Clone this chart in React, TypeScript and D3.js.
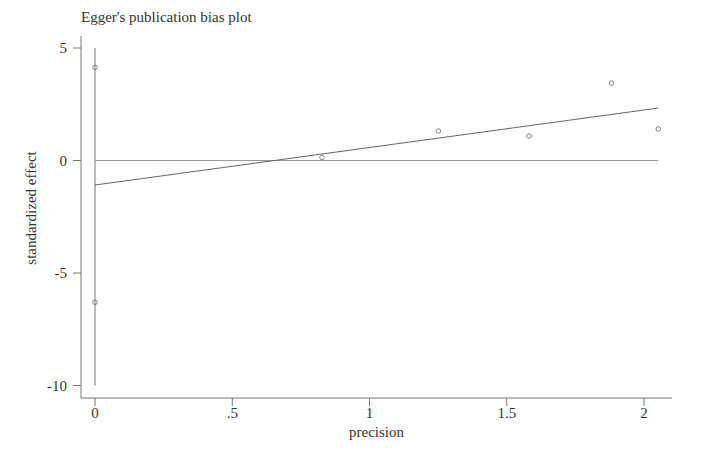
import React from "react";
import * as d3 from "d3";

const precision = [0, 0, 0.827, 1.251, 1.581, 1.882, 2.052];
const stdEffect = [4.14, -6.3, 0.13, 1.31, 1.09, 3.44, 1.4];
const regIntercept = -1.09;
const regSlope = 1.667;
const xTicks = [0, 0.5, 1, 1.5, 2];
const xTickLabels = ["0", ".5", "1", "1.5", "2"];
const yTicks = [5, 0, -5, -10];
const yTickLabels = ["5", "0", "-5", "-10"];
const title = "Egger's publication bias plot";
const xTitle = "precision";
const yTitle = "standardized effect";

export default function App() {
  const W = 705, H = 458;
  const x = d3.scaleLinear().domain([0, 2]).range([95, 644]);
  const y = d3.scaleLinear().domain([0, 5]).range([160.5, 48]);
  const axisLeftX = 81;
  const axisBottomY = 398;
  const xMin = x.invert(axisLeftX), xMax = x.invert(672);
  const yTop = y.invert(36), yBot = y.invert(axisBottomY);
  const xEnd = d3.max(precision) as number;
  const font = "'Liberation Serif', 'Times New Roman', serif";
  const txt = "#333";
  return (
    <div style={{ position: "absolute", left: 0, top: 0 }}>
      <svg width={W} height={H} style={{ display: "block", background: "#fff" }}>
        <text x={81} y={22} fontFamily={font} fontSize={15} fill={txt}>{title}</text>
        {/* axes */}
        <line x1={axisLeftX} x2={axisLeftX} y1={y(yTop)} y2={y(yBot)} stroke="#777" strokeWidth={1} />
        <line x1={x(xMin)} x2={x(xMax)} y1={axisBottomY} y2={axisBottomY} stroke="#777" strokeWidth={1} />
        {yTicks.map((t, i) => (
          <g key={"y" + i}>
            <line x1={axisLeftX - 8} x2={axisLeftX} y1={y(t)} y2={y(t)} stroke="#777" />
            <text x={axisLeftX - 14} y={y(t)} dy="0.35em" textAnchor="end" fontFamily={font} fontSize={15} fill={txt}>{yTickLabels[i]}</text>
          </g>
        ))}
        {xTicks.map((t, i) => (
          <g key={"x" + i}>
            <line x1={x(t)} x2={x(t)} y1={axisBottomY} y2={axisBottomY + 8} stroke="#777" />
            <text x={x(t)} y={418} textAnchor="middle" fontFamily={font} fontSize={15} fill={txt}>{xTickLabels[i]}</text>
          </g>
        ))}
        <text x={(x(xMin) + x(xMax)) / 2} y={437} textAnchor="middle" fontFamily={font} fontSize={15} fill={txt}>{xTitle}</text>
        <text transform={`translate(36,${(y(yTop) + y(yBot)) / 2 - 9}) rotate(-90)`} textAnchor="middle" fontFamily={font} fontSize={15} fill={txt}>{yTitle}</text>
        {/* vertical line at precision 0 */}
        <line x1={x(0)} x2={x(0)} y1={y(5)} y2={y(-10)} stroke="#777" strokeWidth={1} />
        {/* zero line */}
        <line x1={x(0)} x2={x(xEnd)} y1={y(0)} y2={y(0)} stroke="#999" strokeWidth={1.2} />
        {/* regression line */}
        <line x1={x(0)} x2={x(xEnd)} y1={y(regIntercept)} y2={y(regIntercept + regSlope * xEnd)} stroke="#666" strokeWidth={1} />
        {precision.map((p, i) => (
          <circle key={"p" + i} cx={x(p)} cy={y(stdEffect[i])} r={2.3} fill="none" stroke="#777" strokeWidth={0.9} />
        ))}
      </svg>
    </div>
  );
}
